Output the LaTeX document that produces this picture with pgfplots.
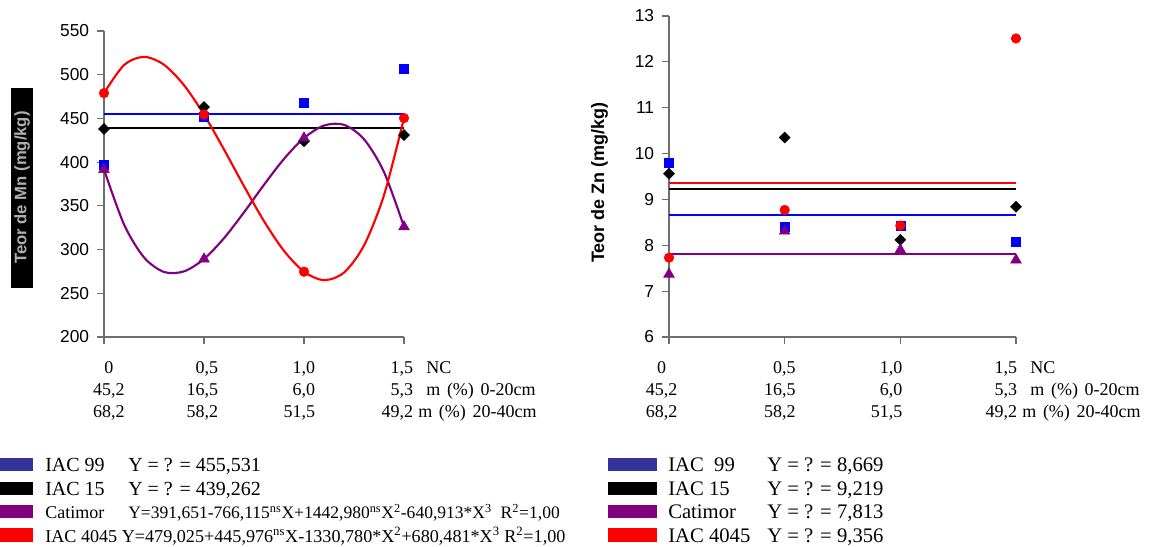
\documentclass[border=0pt]{standalone}
\usepackage{pgfplots}
\pgfplotsset{compat=1.18}
\usepackage{fontspec}
\setmainfont{Liberation Serif}
\setsansfont{Liberation Sans}
\definecolor{cblue}{HTML}{0000FF}
\definecolor{cpurple}{HTML}{800080}
\definecolor{cred}{HTML}{FF0000}
\definecolor{lblue}{HTML}{333399}
\definecolor{axgray}{HTML}{6E6E6E}
\newcommand{\tailA}{\rlap{\hspace{10pt}NC}}
\newcommand{\tailB}{\rlap{\hspace{10pt}m\hspace{5pt}(\%)\hspace{5pt}0-20cm}}
\newcommand{\tailC}{\rlap{\hspace{4pt}m\hspace{5pt}(\%)\hspace{5pt}20-40cm}}
\pgfplotsset{
  mystyle/.style={
    scale only axis,
    axis x line*=bottom, axis y line*=left,
    axis line style={axgray, line width=0.9pt},
    tick style={axgray, line width=0.9pt},
    tick align=outside,
    major tick length=5pt,
    xmin=0, xmax=1.5, xtick={0,0.5,1,1.5},
    clip=false,
    yticklabel style={font=\sffamily\fontsize{13}{15}\selectfont, /pgf/number format/assume math mode=true, inner sep=0pt, xshift=-6pt},
    xticklabel style={font=\fontsize{13.5}{16.5}\selectfont, anchor=north, inner sep=0pt, yshift=-10.6pt},
  },
  curve/.style={line width=1.6pt, no marks},
}
\begin{document}
\begin{tikzpicture}
\useasboundingbox (0,0) rectangle (872.25pt,-409.5pt);
% ---------------- Left: Mn ----------------
\begin{axis}[mystyle,
  at={(78pt,-252.75pt)}, anchor=south west,
  width=225pt, height=229.5pt,
  ymin=200, ymax=550, ytick={200,250,...,550},
  xticklabels={
    {\makebox[0pt][c]{\hspace*{7.5pt}\begin{tabular}{@{}c@{}}0\\45,2\\68,2\end{tabular}}},
    {\makebox[0pt][r]{\begin{tabular}{@{}r@{}}0,5\\16,5\\58,2\end{tabular}\hspace*{-10.5pt}}},
    {\makebox[0pt][r]{\begin{tabular}{@{}r@{}}1,0\\6,0\\51,5\end{tabular}\hspace*{-8.25pt}}},
    {\makebox[0pt][r]{\begin{tabular}{@{}r@{}}1,5\tailA\\5,3\tailB\\49,2\tailC\end{tabular}\hspace*{-6.75pt}}}
  },
]
\addplot[cblue, curve] coordinates {(0,455.531) (1.5,455.531)};
\addplot[black, curve] coordinates {(0,439.262) (1.5,439.262)};
\addplot[cpurple, curve, smooth] coordinates {
 (0,391.65) (0.1,328.83) (0.2,291.02) (0.3,274.38) (0.4,275.06) (0.5,289.22)
 (0.6,313.02) (0.7,342.60) (0.8,374.12) (0.9,403.74) (1.0,427.60) (1.1,441.88)
 (1.2,442.71) (1.3,426.25) (1.4,388.67) (1.5,326.10)};
\addplot[cred, curve, smooth] coordinates {
 (0,479.03) (0.1,511.00) (0.2,520.43) (0.3,511.42) (0.4,488.04) (0.5,454.38)
 (0.6,414.51) (0.7,372.53) (0.8,332.51) (0.9,298.54) (1.0,274.70) (1.1,265.08)
 (1.2,273.74) (1.3,304.79) (1.4,362.30) (1.5,450.36)};
\addplot[only marks, mark=square*, mark size=3.4pt, cblue] coordinates {(0,397) (0.5,452) (1,468) (1.5,507)};
\addplot[only marks, mark=square*, mark size=2.9pt, mark options={rotate=45}, black] coordinates {(0,438) (0.5,463) (1,424) (1.5,431)};
\addplot[only marks, mark=triangle*, mark size=4.6pt, cpurple] coordinates {(0,391.65) (0.5,289.2) (1,427.6) (1.5,326.1)};
\addplot[only marks, mark=*, mark size=3.6pt, cred] coordinates {(0,479.0) (0.5,454.4) (1,274.7) (1.5,450.4)};
\end{axis}
% ---------------- Right: Zn ----------------
\begin{axis}[mystyle,
  at={(501.75pt,-252.75pt)}, anchor=south west,
  width=260.25pt, height=240.75pt,
  ymin=6, ymax=13, ytick={6,7,...,13},
  xticklabels={
    {\makebox[0pt][c]{\begin{tabular}{@{}c@{}}0\\45,2\\68,2\end{tabular}\hspace*{11.25pt}}},
    {\makebox[0pt][r]{\begin{tabular}{@{}r@{}}0,5\\16,5\\58,2\end{tabular}\hspace*{-8.25pt}}},
    {\makebox[0pt][r]{\begin{tabular}{@{}r@{}}1,0\\6,0\\51,5\end{tabular}\hspace*{-1.5pt}}},
    {\makebox[0pt][r]{\begin{tabular}{@{}r@{}}1,5\tailA\\5,3\tailB\\49,2\tailC\end{tabular}\hspace*{-0.75pt}}}
  },
]
\addplot[cred, curve] coordinates {(0,9.356) (1.5,9.356)};
\addplot[black, curve] coordinates {(0,9.219) (1.5,9.219)};
\addplot[cblue, curve] coordinates {(0,8.669) (1.5,8.669)};
\addplot[cpurple, curve] coordinates {(0,7.813) (1.5,7.813)};
\addplot[only marks, mark=square*, mark size=3.4pt, cblue] coordinates {(0,9.80) (0.5,8.40) (1,8.42) (1.5,8.07)};
\addplot[only marks, mark=square*, mark size=2.9pt, mark options={rotate=45}, black] coordinates {(0,9.56) (0.5,10.35) (1,8.12) (1.5,8.84)};
\addplot[only marks, mark=triangle*, mark size=4.6pt, cpurple] coordinates {(0,7.37) (0.5,8.31) (1,7.90) (1.5,7.68)};
\addplot[only marks, mark=*, mark size=3.6pt, cred] coordinates {(0,7.73) (0.5,8.77) (1,8.43) (1.5,12.51)};
\end{axis}
% ---------------- labels and legends (px units) ----------------
\begin{scope}[x=0.75pt, y=-0.75pt]
\node[rotate=90, fill=black, text={rgb,255:red,175;green,175;blue,175}, inner sep=0pt,
      minimum width=150pt, minimum height=16.5pt, font=\sffamily\bfseries\fontsize{12.5}{14}\selectfont]
      at (22,187.5) {Teor de Mn (mg/kg)};
\node[rotate=90, inner sep=0pt, font=\sffamily\bfseries\fontsize{13.5}{16}\selectfont]
      at (599.5,182.5) {Teor de Zn (mg/kg)};
% left legend
\fill[lblue] (0,458) rectangle (33,471);
\fill[black] (0,482) rectangle (33,495);
\fill[cpurple] (0,505) rectangle (33,518);
\fill[cred] (0,528) rectangle (33,542);
\begin{scope}[every node/.style={anchor=base west, inner sep=0pt}]
\node[font=\fontsize{15}{17}\selectfont] at (45,471) {IAC 99};
\node[font=\fontsize{15}{17}\selectfont] at (128,471) {Y = ? = 455,531};
\node[font=\fontsize{15}{17}\selectfont] at (45,495) {IAC 15};
\node[font=\fontsize{15}{17}\selectfont] at (128,495) {Y = ? = 439,262};
\node[font=\fontsize{13.5}{15}\selectfont] at (45,518) {Catimor};
\node[font=\fontsize{13.15}{15}\selectfont] at (128,518) {Y=391,651-766,115\textsuperscript{ns}X+1442,980\textsuperscript{ns}X\textsuperscript{2}-640,913*X\textsuperscript{3}\ \ R\textsuperscript{2}=1,00};
\node[font=\fontsize{13.6}{16}\selectfont] at (45,542) {IAC 4045 Y=479,025+445,976\textsuperscript{ns}X-1330,780*X\textsuperscript{2}+680,481*X\textsuperscript{3} R\textsuperscript{2}=1,00};
% right legend
\node[font=\fontsize{15.5}{17}\selectfont] at (668,471) {IAC\ \ 99};
\node[font=\fontsize{15.5}{17}\selectfont] at (767,471) {Y = ? = 8,669};
\node[font=\fontsize{15.5}{17}\selectfont] at (668,495) {IAC 15};
\node[font=\fontsize{15.5}{17}\selectfont] at (767,495) {Y = ? = 9,219};
\node[font=\fontsize{15.5}{17}\selectfont] at (668,518) {Catimor};
\node[font=\fontsize{15.5}{17}\selectfont] at (767,518) {Y = ? = 7,813};
\node[font=\fontsize{15.5}{17}\selectfont] at (668,542) {IAC 4045};
\node[font=\fontsize{15.5}{17}\selectfont] at (767,542) {Y = ? = 9,356};
\end{scope}
\fill[lblue] (608,458) rectangle (657,471);
\fill[black] (608,482) rectangle (657,495);
\fill[cpurple] (608,505) rectangle (657,518);
\fill[cred] (608,528) rectangle (657,542);
\end{scope}
\end{tikzpicture}
\end{document}
